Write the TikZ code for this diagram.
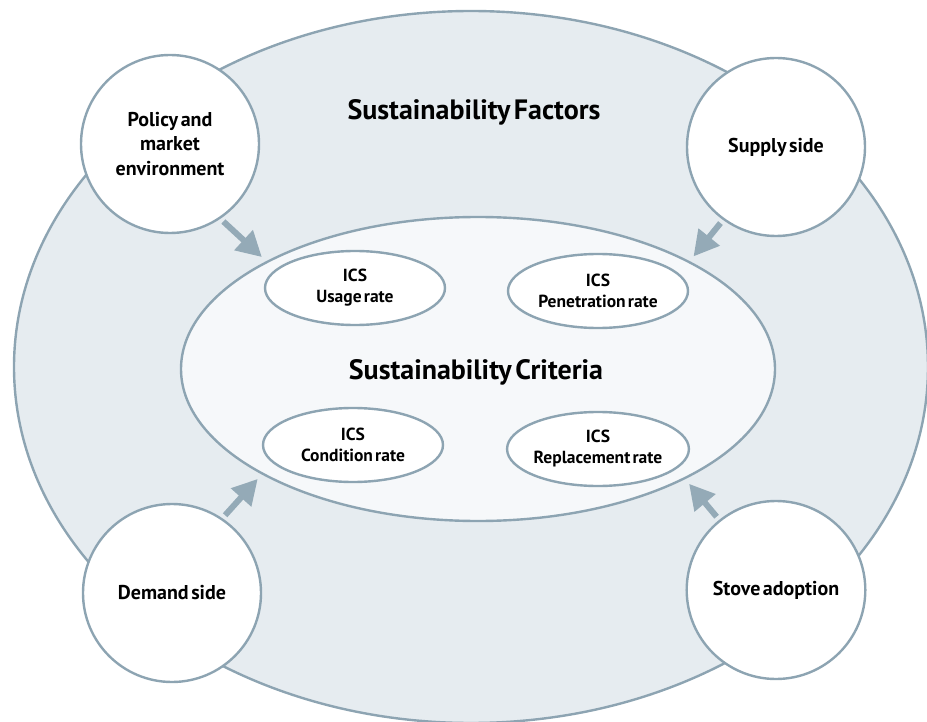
\documentclass[tikz,border=0pt]{standalone}
\usepackage{fontspec}
\setmainfont{PT Sans}[WordSpace=0.5]
\usetikzlibrary{shapes.geometric,arrows.meta}
\definecolor{edgecol}{RGB}{141,164,178}
\definecolor{outerfill}{RGB}{230,236,240}
\definecolor{innerfill}{RGB}{246,248,250}
\definecolor{arrcol}{RGB}{148,170,183}
\tikzset{
  bigell/.style={ellipse, draw=edgecol, line width=2.4pt, inner sep=0pt},
  factor/.style={ellipse, draw=edgecol, fill=white, line width=2.4pt, inner sep=0pt,
     minimum width=178pt, minimum height=178pt, align=center,
     font=\bfseries\fontsize{20}{24.5}\selectfont},
  crit/.style={ellipse, draw=edgecol, fill=white, line width=2.4pt, inner sep=0pt,
     minimum width=180pt, minimum height=74pt, align=center,
     font=\bfseries\fontsize{17.5}{21}\selectfont},
  title/.style={font=\bfseries\fontsize{28}{32}\selectfont},
  arr/.style={draw=arrcol, line width=6pt, -{Triangle[length=25pt,width=26pt]}, shorten <=4pt, shorten >=6pt}
}
\begin{document}
\begin{tikzpicture}[x=1pt,y=-1pt]
\useasboundingbox (0,0) rectangle (927,722);
\node[bigell, fill=outerfill, minimum width=914pt, minimum height=712pt] (outer) at (471,367) {};
\node[bigell, fill=innerfill, minimum width=594pt, minimum height=304pt] (inner) at (478,369) {};
\node[title] (tf) at (474,112) {Sustainability Factors};
\node[title] (tc) at (476,372) {Sustainability Criteria};
\node[factor] (policy) at (170,144) {Policy and\\market\\environment};
\node[factor] (supply) at (776,147) {Supply side};
\node[factor] (demand) at (172,593) {Demand side};
\node[factor] (stove) at (776,590) {Stove adoption};
\node[crit] (usage) at (355,288) {ICS\\Usage rate};
\node[crit] (pen) at (598,291) {ICS\\Penetration rate};
\node[crit] (cond) at (353,445) {ICS\\Condition rate};
\node[crit] (repl) at (598,449) {ICS\\Replacement rate};
\draw[arr] (policy.-56) -- (inner.153.6);
\draw[arr] (supply.-126) -- (inner.27.4);
\draw[arr] (demand.56) -- (inner.-154);
\draw[arr] (stove.129) -- (inner.-28.5);
\end{tikzpicture}
\end{document}
